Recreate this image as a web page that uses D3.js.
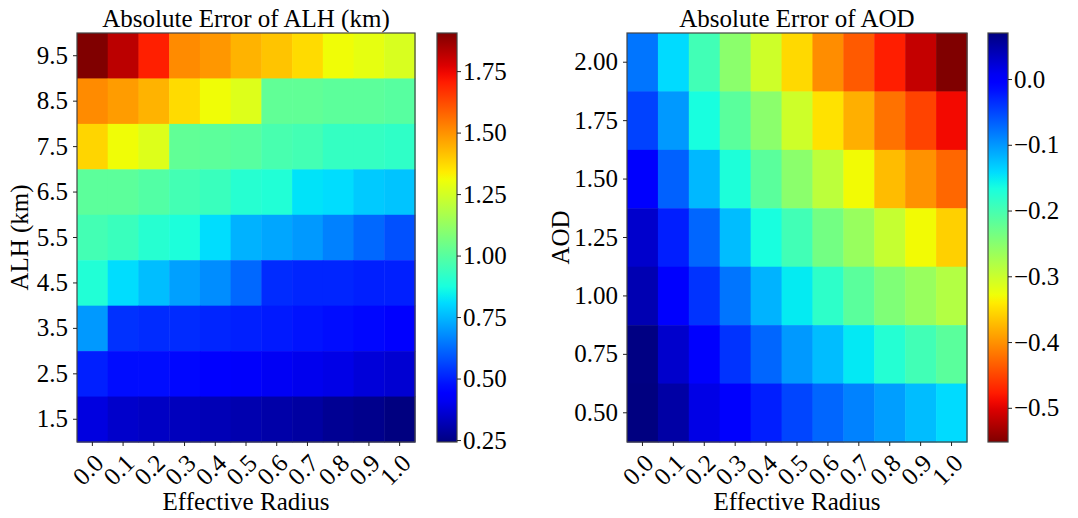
<!DOCTYPE html>
<html>
<head>
<meta charset="utf-8">
<script src="https://cdn.jsdelivr.net/npm/d3@7"></script>
<style>
  body { margin: 0; background: #fff; }
  text { font-family: "Liberation Serif", "Times New Roman", serif; fill: #000; }
</style>
</head>
<body>
<svg id="chart" width="1078" height="518"></svg>
<script>
// effective radius columns (shared by both panels)
const radii = ["0.0", "0.1", "0.2", "0.3", "0.4", "0.5", "0.6", "0.7", "0.8", "0.9", "1.0"];

// left panel: ALH rows, top to bottom
const alhRows = ["9.5", "8.5", "7.5", "6.5", "5.5", "4.5", "3.5", "2.5", "1.5"];
const alhErr = [
  [1.905, 1.82, 1.70, 1.51, 1.49, 1.44, 1.41, 1.37, 1.31, 1.29, 1.26],
  [1.51, 1.48, 1.44, 1.37, 1.31, 1.27, 1.02, 1.02, 1.01, 1.01, 1.00],
  [1.38, 1.31, 1.27, 1.02, 1.01, 1.00, 0.97, 0.96, 0.93, 0.93, 0.92],
  [1.01, 1.01, 0.99, 0.96, 0.94, 0.90, 0.89, 0.82, 0.81, 0.78, 0.77],
  [0.96, 0.94, 0.90, 0.88, 0.81, 0.74, 0.72, 0.70, 0.66, 0.62, 0.58],
  [0.89, 0.81, 0.76, 0.71, 0.68, 0.62, 0.52, 0.51, 0.51, 0.50, 0.50],
  [0.70, 0.53, 0.52, 0.52, 0.51, 0.50, 0.49, 0.48, 0.47, 0.46, 0.45],
  [0.50, 0.47, 0.47, 0.46, 0.43, 0.42, 0.41, 0.40, 0.39, 0.37, 0.36],
  [0.38, 0.35, 0.34, 0.33, 0.32, 0.31, 0.30, 0.29, 0.27, 0.26, 0.242]
];
const alhTicks = [0.25, 0.50, 0.75, 1.00, 1.25, 1.50, 1.75];

// right panel: AOD rows, top to bottom
const aodRows = ["2.00", "1.75", "1.50", "1.25", "1.00", "0.75", "0.50"];
const aodErr = [
  [-0.079, -0.141, -0.197, -0.253, -0.303, -0.353, -0.403, -0.437, -0.476, -0.515, -0.552],
  [-0.048, -0.101, -0.166, -0.216, -0.253, -0.303, -0.347, -0.381, -0.421, -0.452, -0.490],
  [0.002, -0.067, -0.120, -0.170, -0.216, -0.253, -0.290, -0.331, -0.372, -0.400, -0.428],
  [0.029, -0.026, -0.070, -0.123, -0.166, -0.197, -0.235, -0.263, -0.297, -0.331, -0.359],
  [0.043, 0.002, -0.039, -0.079, -0.117, -0.151, -0.182, -0.216, -0.244, -0.263, -0.283],
  [0.068, 0.029, 0.002, -0.039, -0.070, -0.101, -0.123, -0.150, -0.175, -0.197, -0.216],
  [0.070, 0.050, 0.015, 0.002, -0.026, -0.050, -0.070, -0.087, -0.104, -0.123, -0.141]
];
const aodTicks = [0.0, -0.1, -0.2, -0.3, -0.4, -0.5];

const FS = "25px";

// matplotlib jet
function jet(t) {
  t = Math.max(0, Math.min(1, t));
  const seg = (pts) => {
    for (let i = 1; i < pts.length; i++) {
      if (t <= pts[i][0]) {
        const [x0, y0] = pts[i - 1], [x1, y1] = pts[i];
        return y0 + (y1 - y0) * (t - x0) / (x1 - x0);
      }
    }
    return pts[pts.length - 1][1];
  };
  const r = seg([[0, 0], [0.35, 0], [0.66, 1], [0.89, 1], [1, 0.5]]);
  const g = seg([[0, 0], [0.125, 0], [0.375, 1], [0.64, 1], [0.91, 0], [1, 0]]);
  const b = seg([[0, 0.5], [0.11, 1], [0.34, 1], [0.65, 0], [1, 0]]);
  return d3.rgb(r * 255, g * 255, b * 255).toString();
}

const svg = d3.select("#chart");
const defs = svg.append("defs");
const fmtMinus = (s) => s.replace("-", "\u2212");

function panel(opt) {
  const { x0, x1, y0, y1, rows, values, title, ylabel, reverse, cbx, ticks, tickFmt, id } = opt;
  const g = svg.append("g");
  const flat = values.flat();
  const ext = d3.extent(flat);
  const color = (v) => {
    const t = (v - ext[0]) / (ext[1] - ext[0]);
    return jet(reverse ? 1 - t : t);
  };

  const x = d3.scaleBand().domain(radii).range([x0, x1]);
  const y = d3.scaleBand().domain(rows).range([y0, y1]);

  const cells = [];
  values.forEach((row, i) => row.forEach((v, j) => cells.push({ r: rows[i], c: radii[j], v })));

  g.selectAll("rect.cell")
    .data(cells)
    .enter()
    .append("rect")
    .attr("class", "cell")
    .attr("x", d => x(d.c))
    .attr("y", d => y(d.r))
    .attr("width", x.bandwidth() + 0.5)
    .attr("height", y.bandwidth() + 0.5)
    .attr("fill", d => color(d.v));

  g.append("rect")
    .attr("x", x0).attr("y", y0)
    .attr("width", x1 - x0).attr("height", y1 - y0)
    .attr("fill", "none").attr("stroke", "#444").attr("stroke-width", 1.2);

  // y axis
  const ya = g.append("g")
    .attr("transform", "translate(" + x0 + ",0)")
    .call(d3.axisLeft(y).tickSize(4).tickPadding(5));
  ya.select(".domain").remove();
  ya.selectAll("line").attr("stroke", "#222");
  ya.selectAll("text").style("font-size", FS).attr("font-family", "Liberation Serif");

  // x axis, rotated labels
  const xa = g.append("g")
    .attr("transform", "translate(0," + y1 + ")")
    .call(d3.axisBottom(x).tickSize(4));
  xa.select(".domain").remove();
  xa.selectAll("line").attr("stroke", "#222");
  xa.selectAll("text")
    .style("font-size", FS)
    .attr("font-family", "Liberation Serif")
    .attr("y", 0).attr("dy", "0.32em")
    .attr("text-anchor", "middle")
    .attr("transform", "translate(-4,28) rotate(-45)");

  g.append("text")
    .attr("x", (x0 + x1) / 2).attr("y", 27)
    .attr("text-anchor", "middle")
    .style("font-size", FS)
    .text(title);

  g.append("text")
    .attr("x", (x0 + x1) / 2).attr("y", 510)
    .attr("text-anchor", "middle")
    .style("font-size", FS)
    .text("Effective Radius");

  g.append("text")
    .attr("transform", "translate(" + opt.ylabelX + "," + (y0 + y1) / 2 + ") rotate(-90)")
    .attr("text-anchor", "middle")
    .style("font-size", FS)
    .text(ylabel);

  // colorbar
  const cbw = 20;
  const grad = defs.append("linearGradient")
    .attr("id", id).attr("x1", 0).attr("y1", 1).attr("x2", 0).attr("y2", 0);
  d3.range(0, 1.0001, 0.02).forEach(t => {
    grad.append("stop")
      .attr("offset", t)
      .attr("stop-color", jet(reverse ? 1 - t : t));
  });
  g.append("rect")
    .attr("x", cbx).attr("y", y0)
    .attr("width", cbw).attr("height", y1 - y0)
    .attr("fill", "url(#" + id + ")")
    .attr("stroke", "#444").attr("stroke-width", 1.2);

  const cs = d3.scaleLinear().domain(ext).range([y1, y0]);
  const ca = g.append("g")
    .attr("transform", "translate(" + (cbx + cbw) + ",0)")
    .call(d3.axisRight(cs).tickValues(ticks).tickSize(4).tickPadding(2).tickFormat(tickFmt));
  ca.select(".domain").remove();
  ca.selectAll("line").attr("stroke", "#222");
  ca.selectAll("text").style("font-size", FS).attr("font-family", "Liberation Serif");
}

panel({
  id: "gradAlh", x0: 77, x1: 415, y0: 33, y1: 442,
  rows: alhRows, values: alhErr,
  title: "Absolute Error of ALH (km)", ylabel: "ALH (km)", ylabelX: 28,
  reverse: false, cbx: 437, ticks: alhTicks, tickFmt: d3.format(".2f")
});

panel({
  id: "gradAod", x0: 627, x1: 967, y0: 33, y1: 442,
  rows: aodRows, values: aodErr,
  title: "Absolute Error of AOD", ylabel: "AOD", ylabelX: 569,
  reverse: true, cbx: 988, ticks: aodTicks, tickFmt: v => fmtMinus(d3.format(".1f")(v))
});
</script>
</body>
</html>
